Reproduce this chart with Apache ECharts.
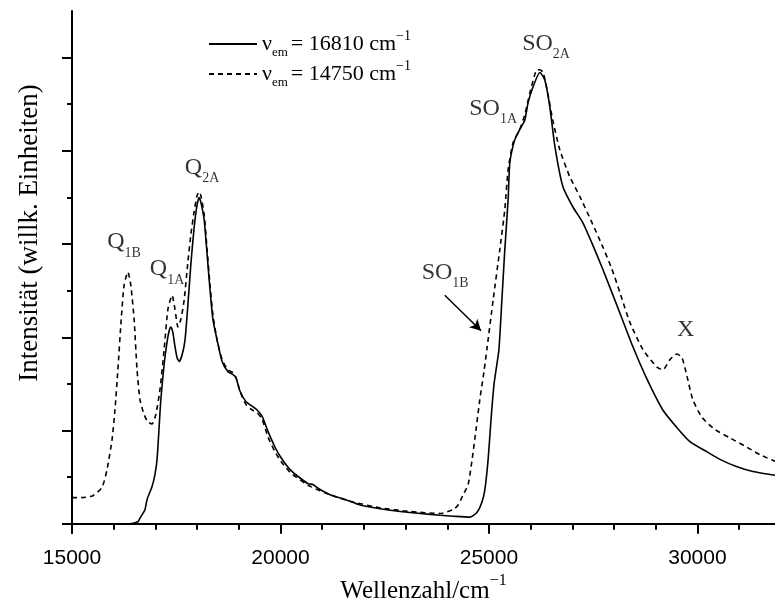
<!DOCTYPE html>
<html>
<head>
<meta charset="utf-8">
<script src="https://cdn.jsdelivr.net/npm/echarts@6/dist/echarts.min.js"></script>
<style>
  html, body { margin: 0; padding: 0; background: #fff; }
  #chart { width: 775px; height: 604px; }
</style>
</head>
<body>
<div id="chart"></div>
<script>
// Anregungsspektren bei zwei Emissionswellenzahlen
var solidX = [15000, 16390, 16580, 16630, 16750, 16800, 16920, 16990, 17040, 17090, 17130, 17210, 17280, 17330, 17370, 17420, 17470, 17520, 17570, 17640, 17710, 17780, 17850, 17930, 18000, 18050, 18090, 18170, 18240, 18310, 18380, 18480, 18600, 18740, 18860, 18930, 19030, 19170, 19320, 19440, 19560, 19700, 19870, 20010, 20230, 20470, 20660, 20780, 20900, 21190, 21550, 21910, 22390, 22870, 23350, 23830, 24140, 24540, 24710, 24830, 24900, 24980, 25050, 25120, 25190, 25240, 25310, 25380, 25460, 25500, 25620, 25740, 25860, 25940, 26060, 26220, 26340, 26460, 26580, 26770, 27010, 27250, 27470, 27730, 28140, 28450, 28790, 29170, 29510, 29820, 30230, 30540, 30950, 31330, 31860];
var solidY = [0, 0, 0.02, 0.06, 0.15, 0.26, 0.40, 0.53, 0.69, 1.04, 1.33, 1.71, 1.95, 2.07, 2.11, 2.05, 1.90, 1.78, 1.74, 1.81, 1.97, 2.35, 2.78, 3.18, 3.42, 3.50, 3.45, 3.26, 2.89, 2.51, 2.19, 1.97, 1.74, 1.63, 1.60, 1.57, 1.42, 1.31, 1.26, 1.22, 1.15, 0.99, 0.82, 0.71, 0.58, 0.49, 0.43, 0.42, 0.38, 0.31, 0.26, 0.20, 0.16, 0.13, 0.11, 0.09, 0.08, 0.07, 0.12, 0.23, 0.36, 0.69, 1.12, 1.49, 1.71, 1.87, 2.40, 2.94, 3.48, 3.87, 4.12, 4.23, 4.33, 4.52, 4.69, 4.84, 4.76, 4.47, 4.05, 3.62, 3.40, 3.23, 3.01, 2.73, 2.26, 1.90, 1.55, 1.22, 1.03, 0.88, 0.77, 0.69, 0.61, 0.56, 0.52];

var dashX = [15000, 15240, 15500, 15720, 15840, 15960, 16030, 16100, 16180, 16250, 16340, 16410, 16490, 16560, 16630, 16730, 16820, 16920, 17010, 17110, 17210, 17300, 17400, 17470, 17540, 17610, 17690, 17780, 17850, 17930, 18000, 18050, 18090, 18170, 18240, 18310, 18380, 18480, 18600, 18740, 18860, 18930, 19030, 19170, 19320, 19440, 19560, 19700, 19870, 20010, 20230, 20470, 20710, 21190, 21670, 22390, 23110, 23830, 24140, 24260, 24380, 24500, 24590, 24690, 24780, 24880, 24950, 25100, 25260, 25380, 25460, 25580, 25740, 25860, 25980, 26080, 26150, 26220, 26300, 26410, 26530, 26700, 26940, 27180, 27470, 27730, 27950, 28140, 28380, 28690, 29030, 29170, 29340, 29510, 29630, 29750, 29890, 30110, 30420, 30780, 31190, 31500, 31860];
var dashY = [0.28, 0.28, 0.30, 0.39, 0.58, 0.90, 1.22, 1.65, 2.19, 2.56, 2.70, 2.56, 2.19, 1.65, 1.33, 1.17, 1.09, 1.07, 1.17, 1.44, 1.87, 2.30, 2.45, 2.30, 2.11, 2.19, 2.40, 2.81, 3.10, 3.35, 3.52, 3.56, 3.52, 3.32, 2.94, 2.56, 2.24, 1.97, 1.76, 1.65, 1.62, 1.57, 1.42, 1.28, 1.22, 1.19, 1.12, 0.93, 0.77, 0.67, 0.55, 0.47, 0.40, 0.31, 0.24, 0.17, 0.13, 0.11, 0.15, 0.20, 0.31, 0.42, 0.67, 1.01, 1.33, 1.63, 1.87, 2.40, 2.94, 3.37, 3.80, 4.09, 4.23, 4.39, 4.62, 4.79, 4.87, 4.87, 4.84, 4.62, 4.33, 4.01, 3.72, 3.51, 3.23, 2.97, 2.73, 2.48, 2.16, 1.87, 1.68, 1.65, 1.76, 1.82, 1.78, 1.58, 1.33, 1.14, 1.01, 0.92, 0.82, 0.74, 0.67];

var legendNu = ['16810', '14750'];

var peakMain = ['Q', 'Q', 'Q', 'SO', 'SO', 'SO', 'X'];
var peakSub = ['1B', '1A', '2A', '1B', '1A', '2A', ''];
var peakX = [16250, 17280, 18120, 23950, 25100, 26370, 29720];
var peakY = [2.99, 2.70, 3.79, 2.66, 4.42, 5.12, 2.05];
var arrowFrom = [23940, 2.45];
var arrowTo = [24810, 2.07];

var xMajorTicks = [15000, 20000, 25000, 30000];
var xMinorTicks = [16000, 17000, 18000, 19000, 21000, 22000, 23000, 24000, 26000, 27000, 28000, 29000, 31000];
var yMajorTicks = [0, 1, 2, 3, 4, 5];
var yMinorTicks = [0.5, 1.5, 2.5, 3.5, 4.5];

var serif = "'Liberation Serif', 'Times New Roman', serif";
var sans = "'Liberation Sans', Arial, sans-serif";

function pairs (xs, ys) {
  var out = [];
  for (var i = 0; i < xs.length; i++) out.push([xs[i], ys[i]]);
  return out;
}

var peaks = [];
for (var i = 0; i < peakX.length; i++) peaks.push({ value: [peakX[i], peakY[i]], main: peakMain[i], sub: peakSub[i] });

var chart = echarts.init(document.getElementById('chart'));
var option = {
  animation: false,
  backgroundColor: '#fff',
  grid: { left: 72, right: 0, top: 11, bottom: 71, outerBoundsMode: 'none' },
  legend: {
    orient: 'vertical',
    left: 208,
    top: 29,
    padding: 0,
    itemWidth: 48,
    itemHeight: 10,
    itemGap: 0,
    selectedMode: false,
    data: ['n0', 'n1'],
    itemStyle: { color: 'transparent', borderColor: 'transparent', borderWidth: 0 },
    formatter: function (name) {
      var v = legendNu[+name.slice(1)];
      return '{m|ν}{s|em}{m|= ' + v + ' cm}{p|−1}';
    },
    textStyle: {
      color: '#000',
      rich: {
        m: { fontFamily: serif, fontSize: 22, color: '#000', padding: [4, 0, 4, 0], verticalAlign: 'middle' },
        s: { fontFamily: serif, fontSize: 13, color: '#000', verticalAlign: 'bottom', padding: [0, 3, 0, 0] },
        p: { fontFamily: serif, fontSize: 14, color: '#000', verticalAlign: 'top' }
      }
    }
  },
  xAxis: [{
    type: 'value', min: 15000, max: 31860, position: 'bottom',
    splitLine: { show: false },
    axisLine: { lineStyle: { color: '#000', width: 2 } },
    axisTick: { customValues: xMajorTicks, length: 10, lineStyle: { color: '#000', width: 2 } },
    axisLabel: {
      customValues: xMajorTicks, margin: 15, color: '#000', fontFamily: sans, fontSize: 21,
      formatter: function (v) { return String(v); }
    },
    name: '{m|Wellenzahl/cm}{p|−1}',
    nameLocation: 'middle',
    nameGap: 40,
    nameMoveOverlap: false,
    nameTextStyle: {
      rich: {
        m: { fontFamily: serif, fontSize: 25, color: '#000', padding: [6, 0, 0, 0], verticalAlign: 'bottom' },
        p: { fontFamily: serif, fontSize: 16, color: '#000', verticalAlign: 'top' }
      }
    }
  }, {
    type: 'value', min: 15000, max: 31860, position: 'bottom',
    splitLine: { show: false },
    axisLine: { show: false },
    axisTick: { customValues: xMinorTicks, length: 6, lineStyle: { color: '#000', width: 2 } },
    axisLabel: { show: false }
  }],
  yAxis: [{
    type: 'value', min: -0.1, max: 5.5, position: 'left',
    splitLine: { show: false },
    axisLine: { lineStyle: { color: '#000', width: 2 } },
    axisTick: { customValues: yMajorTicks, length: 10, lineStyle: { color: '#000', width: 2 } },
    axisLabel: { show: false },
    name: 'Intensität (willk. Einheiten)',
    nameLocation: 'middle',
    nameGap: 29,
    nameMoveOverlap: false,
    nameTextStyle: { fontFamily: serif, fontSize: 27, color: '#000', padding: [0, 0, 0, 78] }
  }, {
    type: 'value', min: -0.1, max: 5.5, position: 'left',
    splitLine: { show: false },
    axisLine: { show: false },
    axisTick: { customValues: yMinorTicks, length: 5, lineStyle: { color: '#000', width: 2 } },
    axisLabel: { show: false }
  }],
  series: [{
    name: 'n0', type: 'line', symbol: 'none', smooth: 0.2,
    data: pairs(solidX, solidY),
    lineStyle: { color: '#000', width: 1.6, type: 'solid' },
    itemStyle: { color: '#000' }
  }, {
    name: 'n1', type: 'line', symbol: 'none', smooth: 0.2,
    data: pairs(dashX, dashY),
    lineStyle: { color: '#000', width: 1.6, type: [5, 4] },
    itemStyle: { color: '#000' }
  }, {
    name: 'peaks', type: 'scatter', symbolSize: 0, silent: true,
    data: peaks,
    label: {
      show: true, position: 'inside', color: '#000',
      formatter: function (p) {
        return '{m|' + p.data.main + '}' + (p.data.sub ? '{s|' + p.data.sub + '}' : '');
      },
      rich: {
        m: { fontFamily: serif, fontSize: 24, color: '#000', padding: [0, 0, 6, 0], verticalAlign: 'bottom' },
        s: { fontFamily: serif, fontSize: 14, color: '#000', verticalAlign: 'bottom' }
      }
    },
    markLine: {
      silent: true,
      symbol: ['none', 'arrow'],
      symbolSize: [9, 11],
      label: { show: false },
      lineStyle: { color: '#000', width: 1.5, type: 'solid' },
      data: [[{ coord: arrowFrom }, { coord: arrowTo }]]
    }
  }]
};
chart.setOption(option);
</script>
</body>
</html>
